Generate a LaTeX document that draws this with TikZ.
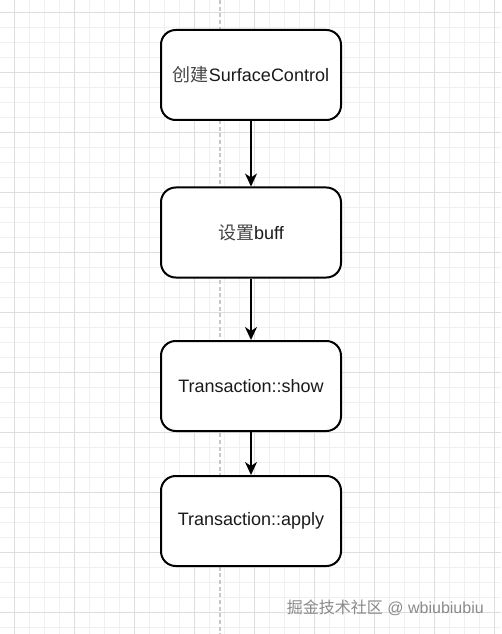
\documentclass[tikz,border=0pt]{standalone}
\usepackage{fontspec}
\setmainfont{Liberation Sans}
\newfontfamily\cjk{Noto Sans CJK SC}
\usetikzlibrary{arrows.meta}
\definecolor{minorgrid}{HTML}{F0F0F0}
\definecolor{majorgrid}{HTML}{DEDEDE}
\definecolor{dashgray}{HTML}{C8C8C8}
\definecolor{txt}{HTML}{1A1A1A}
\definecolor{cjktxt}{HTML}{444444}
\definecolor{wm}{HTML}{8A8A8A}
\tikzset{
  stepbox/.style={draw=black, line width=1.5pt, fill=white, rounded corners=11pt,
    minimum width=135pt, minimum height=67.5pt, inner sep=0pt,
    font=\fontsize{13.5pt}{15pt}\selectfont, text=txt},
  flow/.style={draw=black, line width=1.5pt,
    -{Stealth[length=9.75pt, width=9pt, inset=3pt]}},
  minorline/.style={draw=minorgrid, line width=0.6pt},
  majorline/.style={draw=majorgrid, line width=0.6pt},
}
\begin{document}
\begin{tikzpicture}[x=0.75pt, y=-0.75pt]
\useasboundingbox (0,0) rectangle (501,634);
\fill[white] (0,0) rectangle (501,634);
% minor grid
\foreach \xx in {14,29,...,499} {\draw[minorline] (\xx,0) -- (\xx,634);}
\foreach \yy in {12,27,...,632} {\draw[minorline] (0,\yy) -- (501,\yy);}
% major grid
\foreach \xx in {14,74,...,499} {\draw[majorline] (\xx,0) -- (\xx,634);}
\foreach \yy in {12,72,...,632} {\draw[majorline] (0,\yy) -- (501,\yy);}
% dashed guide
\draw[draw=dashgray, line width=0.9pt, dash pattern=on 3pt off 2pt] (220,0) -- (220,634);
% boxes
\node[stepbox] (n1) at (251,75) {{\cjk\color{cjktxt}创建}SurfaceControl};
\node[stepbox] (n2) at (251,232.5) {{\cjk\color{cjktxt}设置}buff};
\node[stepbox] (n3) at (251,386) {Transaction::show};
\node[stepbox] (n4) at (251,521) {Transaction::apply};
% arrows
\draw[flow] (n1.south) -- (n2.north);
\draw[flow] (n2.south) -- (n3.north);
\draw[flow] (n3.south) -- (n4.north);
% watermark
\node[anchor=east, text=wm, font=\fontsize{12pt}{14pt}\selectfont, inner sep=0pt] (wmk) at (484,608) {{\cjk 掘金技术社区} @ wbiubiubiu};
\end{tikzpicture}
\end{document}
